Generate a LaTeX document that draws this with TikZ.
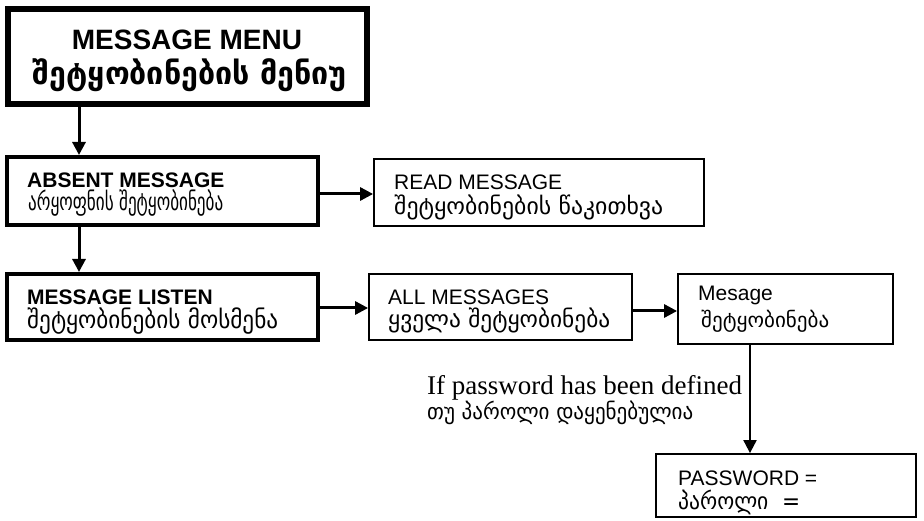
\documentclass[tikz,border=0pt]{standalone}
\usepackage{fontspec}
\usepackage{graphicx}
\setmainfont{Liberation Sans}
\newfontfamily\geo{DejaVu Sans}
\newfontfamily\tms{Liberation Serif}
\usetikzlibrary{arrows.meta,calc}
\newcommand{\fitw}[3]{\resizebox{#1}{#2\height}{#3}}
\begin{document}
\begin{tikzpicture}[x=1pt,y=-1pt,
  thickbox/.style={draw, rectangle, line width=4pt, inner sep=0pt},
  menubox/.style={draw, rectangle, line width=6pt, inner sep=0pt},
  thinbox/.style={draw, rectangle, line width=1.8pt, inner sep=0pt},
  lbl/.style={anchor=west, inner sep=0pt},
  clbl/.style={anchor=center, inner sep=0pt},
  arr/.style={line width=3pt, -{Triangle[length=13pt,width=13pt]}},
  tarr/.style={line width=2pt, -{Triangle[length=13pt,width=13pt]}}]
\useasboundingbox (0,0) rectangle (924,521);

% boxes
\node[menubox, minimum width=359pt, minimum height=95pt] (menu) at (187.5,56.5) {};
\node[thickbox, minimum width=311pt, minimum height=68pt] (absent) at (162.5,191) {};
\node[thinbox, minimum width=330pt, minimum height=67pt] (read) at (539,192.5) {};
\node[thickbox, minimum width=311pt, minimum height=66pt] (listen) at (162.5,307) {};
\node[thinbox, minimum width=263pt, minimum height=66pt] (all) at (500.5,307) {};
\node[thinbox, minimum width=215pt, minimum height=70pt] (mesage) at (785.5,309) {};
\node[thinbox, minimum width=260pt, minimum height=63pt] (pw) at (786,485.5) {};

% texts
\node[clbl, font=\bfseries\fontsize{28}{30}\selectfont] (t1) at (187,40) {MESSAGE MENU};
\node[clbl, font=\geo\bfseries\fontsize{24}{26}\selectfont] (g1) at (190,75) {\fitw{314pt}{1.3}{შეტყობინების მენიუ}};

\node[lbl, font=\bfseries\fontsize{21}{23}\selectfont] (t2) at (27,180) {ABSENT MESSAGE};
\node[lbl, font=\geo\fontsize{19}{21}\selectfont] (g2) at (28,203) {\fitw{195pt}{1.3}{არყოფნის შეტყობინება}};

\node[lbl, font=\fontsize{21}{23}\selectfont] (t3) at (394,182) {READ MESSAGE};
\node[lbl, font=\geo\fontsize{18}{20}\selectfont] (g3) at (394,207) {\fitw{269pt}{1.3}{შეტყობინების წაკითხვა}};

\node[lbl, font=\bfseries\fontsize{21}{23}\selectfont] (t4) at (27,297) {MESSAGE LISTEN};
\node[lbl, font=\geo\fontsize{19}{21}\selectfont] (g4) at (27,321) {\fitw{251pt}{1.3}{შეტყობინების მოსმენა}};

\node[lbl, font=\fontsize{21}{23}\selectfont] (t5) at (388,297) {ALL MESSAGES};
\node[lbl, font=\geo\fontsize{18}{20}\selectfont] (g5) at (388,320) {\fitw{222pt}{1.3}{ყველა შეტყობინება}};

\node[lbl, font=\fontsize{21}{23}\selectfont] (t6) at (698,295) {Mesage};
\node[lbl, font=\geo\fontsize{18}{20}\selectfont] (g6) at (701,321) {\fitw{128pt}{1.15}{შეტყობინება}};

\node[lbl, font=\tms\fontsize{27}{29}\selectfont] (t7) at (427,388) {If password has been defined};
\node[lbl, font=\geo\fontsize{17}{19}\selectfont] (g7) at (427,413) {\fitw{266pt}{1.3}{თუ პაროლი დაყენებულია}};

\node[lbl, font=\fontsize{21}{23}\selectfont] (t8) at (678,478) {PASSWORD =};
\node[lbl, font=\geo\fontsize{18}{20}\selectfont] (g8) at (678,502) {\fitw{122pt}{1.3}{პაროლი \ =}};

% connectors
\draw[arr] ([xshift=-108.5pt]menu.south) -- ([xshift=-108.5pt]menu.south |- absent.north);
\draw[arr] ([xshift=-83.5pt]absent.south) -- ([xshift=-83.5pt]absent.south |- listen.north);
\draw[arr] ([yshift=-3pt]absent.east) -- ([yshift=-3pt]absent.east -| read.west);
\draw[arr] ([yshift=-1pt]listen.east) -- ([yshift=-1pt]listen.east -| all.west);
\draw[arr] ([yshift=-4pt]all.east) -- ([yshift=-4pt]all.east -| mesage.west);
\draw[tarr] ([xshift=-35.5pt]mesage.south) -- ([xshift=-35.5pt]mesage.south |- pw.north);
\end{tikzpicture}
\end{document}
